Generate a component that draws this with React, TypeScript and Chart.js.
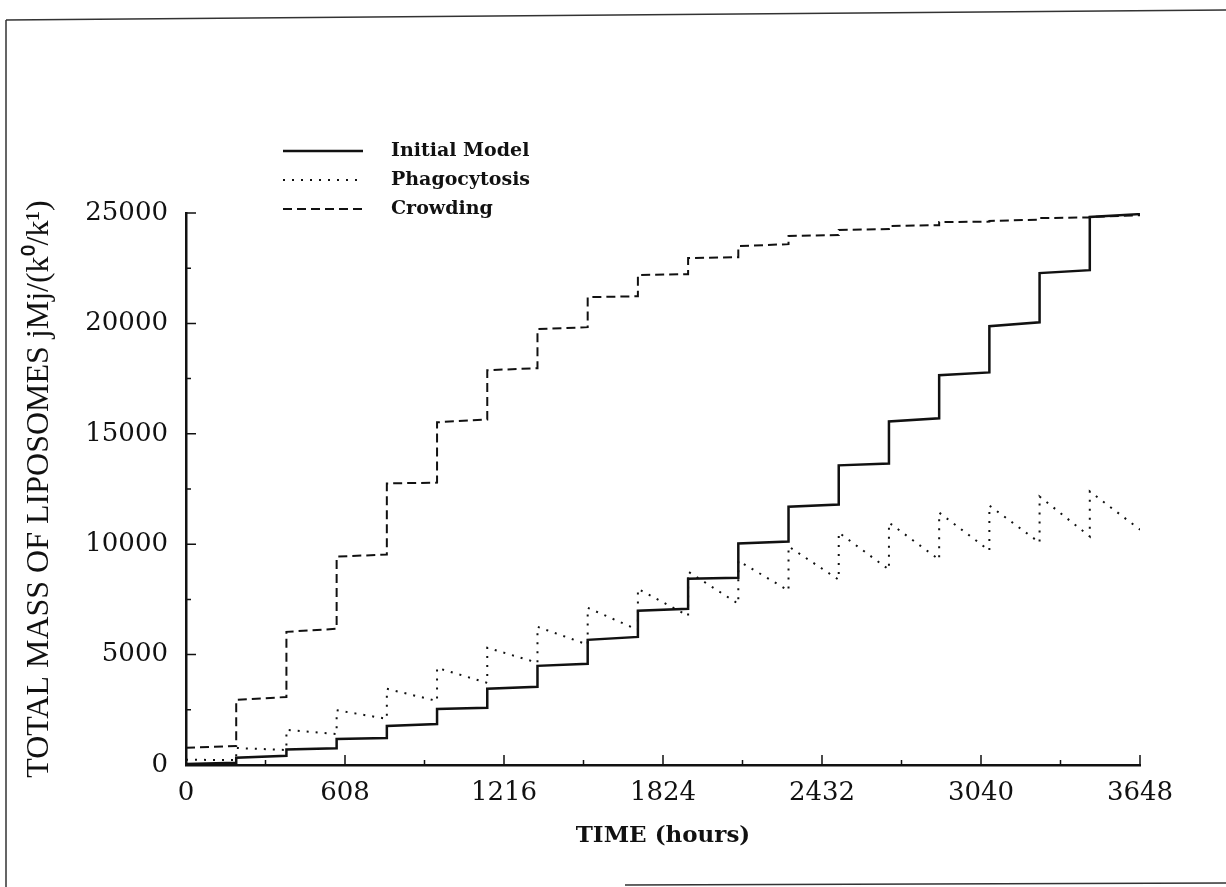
import React, { useEffect, useRef } from "react";
import { Chart, registerables } from "chart.js";

Chart.register(...registerables);

// ---- data ----
const doseTimes = [0, 192, 384, 576, 768, 960, 1152, 1344, 1536, 1728, 1920, 2112, 2304, 2496, 2688, 2880, 3072, 3264, 3456];
const endTime = 3648;

const xTickValues = [0, 608, 1216, 1824, 2432, 3040, 3648];
const xMinorTickValues = [304, 912, 1520, 2128, 2736, 3344];
const yTickValues = [0, 5000, 10000, 15000, 20000, 25000];
const yMinorTickValues = [2500, 7500, 12500, 17500, 22500];

const seriesNames = ["Initial Model", "Phagocytosis", "Crowding"];

// value just after each dose, and value just before the next dose
const initialStart = [50, 330, 700, 1180, 1770, 2540, 3450, 4490, 5670, 6990, 8440, 10030, 11700, 13570, 15560, 17650, 19870, 22280, 24820];
const initialEnd = [100, 420, 760, 1220, 1860, 2590, 3540, 4580, 5800, 7080, 8480, 10120, 11800, 13650, 15700, 17780, 20050, 22410, 24950];

const phagoStart = [240, 770, 1590, 2480, 3450, 4400, 5310, 6260, 7120, 7980, 8760, 9250, 9900, 10530, 10980, 11430, 11750, 12160, 12390];
const phagoEnd = [220, 680, 1400, 2090, 2900, 3720, 4630, 5450, 6120, 6760, 7300, 7900, 8390, 8850, 9300, 9710, 10070, 10350, 10660];

const crowdStart = [780, 2950, 6030, 9440, 12750, 15520, 17880, 19740, 21190, 22190, 22960, 23500, 23960, 24230, 24410, 24590, 24640, 24770, 24820];
const crowdEnd = [860, 3080, 6170, 9530, 12790, 15650, 17970, 19830, 21230, 22230, 23000, 23590, 24000, 24270, 24450, 24610, 24700, 24800, 24900];

function buildPoints(starts: number[], ends: number[]) {
  const pts: { x: number; y: number }[] = [];
  for (let i = 0; i < doseTimes.length; i++) {
    const t0 = doseTimes[i];
    const t1 = i + 1 < doseTimes.length ? doseTimes[i + 1] : endTime;
    pts.push({ x: t0, y: starts[i] });
    pts.push({ x: t1, y: ends[i] });
  }
  return pts;
}

const INK = "#111";
const SOLID: number[] = [];
const DOTTED = [2, 7];
const DASHED = [9, 5];
const dashes = [SOLID, DOTTED, DASHED];
const widths = [2.5, 2, 2];

const decorPlugin = {
  id: "decor",
  beforeDraw(chart: any) {
    const ctx = chart.ctx;
    ctx.save();
    ctx.fillStyle = "#fff";
    ctx.fillRect(0, 0, chart.width, chart.height);
    // scanned page frame
    ctx.strokeStyle = "#333";
    ctx.lineWidth = 1.5;
    ctx.beginPath();
    ctx.moveTo(6, 20);
    ctx.lineTo(1226, 10);
    ctx.moveTo(6, 20);
    ctx.lineTo(6, 887);
    ctx.moveTo(625, 885);
    ctx.lineTo(1226, 883);
    ctx.stroke();
    ctx.restore();
  },
  afterDraw(chart: any) {
    const ctx = chart.ctx;
    const xs = chart.scales.x;
    const ys = chart.scales.y;
    const { left, bottom, top } = chart.chartArea;
    ctx.save();
    ctx.strokeStyle = INK;
    ctx.lineWidth = 1.5;
    ctx.beginPath();
    xTickValues.forEach((v) => {
      const px = xs.getPixelForValue(v);
      ctx.moveTo(px, bottom);
      ctx.lineTo(px, bottom - 10);
    });
    xMinorTickValues.forEach((v) => {
      const px = xs.getPixelForValue(v);
      ctx.moveTo(px, bottom);
      ctx.lineTo(px, bottom - 5);
    });
    yTickValues.forEach((v) => {
      const py = ys.getPixelForValue(v);
      ctx.moveTo(left, py);
      ctx.lineTo(left + 10, py);
    });
    yMinorTickValues.forEach((v) => {
      const py = ys.getPixelForValue(v);
      ctx.moveTo(left, py);
      ctx.lineTo(left + 5, py);
    });
    ctx.stroke();

    // legend
    const rowY = [top - 62, top - 33, top - 4];
    const x0 = left + 97;
    const x1 = left + 177;
    const tx = left + 205;
    ctx.font = "bold 19px 'DejaVu Serif'";
    ctx.textBaseline = "middle";
    ctx.textAlign = "left";
    ctx.fillStyle = INK;
    seriesNames.forEach((name, i) => {
      ctx.beginPath();
      ctx.setLineDash(dashes[i]);
      ctx.lineWidth = i === 0 ? 2.5 : 2;
      ctx.moveTo(x0, rowY[i]);
      ctx.lineTo(x1, rowY[i]);
      ctx.stroke();
      ctx.setLineDash([]);
      ctx.fillText(name, tx, rowY[i]);
    });
    ctx.restore();
  },
};

export default function App() {
  const ref = useRef<HTMLCanvasElement | null>(null);

  useEffect(() => {
    if (!ref.current) return;
    const seriesPoints = [
      buildPoints(initialStart, initialEnd),
      buildPoints(phagoStart, phagoEnd),
      buildPoints(crowdStart, crowdEnd),
    ];
    const chart = new Chart(ref.current, {
      type: "line",
      data: {
        datasets: seriesNames.map((name, i) => ({
          label: name,
          data: seriesPoints[i],
          borderColor: INK,
          borderWidth: widths[i],
          borderDash: dashes[i],
          pointRadius: 0,
          tension: 0,
          fill: false,
        })),
      },
      options: {
        animation: false,
        responsive: false,
        maintainAspectRatio: false,
        layout: { padding: { top: 213, right: 86, left: 0, bottom: 0 } },
        plugins: {
          legend: { display: false },
          tooltip: { enabled: false },
        },
        scales: {
          x: {
            type: "linear",
            min: 0,
            max: endTime,
            afterBuildTicks: (s: any) => {
              s.ticks = xTickValues.map((v) => ({ value: v }));
            },
            afterFit: (s: any) => {
              s.height = 122;
            },
            grid: { display: false, drawTicks: false },
            border: { display: true, color: INK, width: 2.5 },
            ticks: {
              color: INK,
              padding: 13,
              maxRotation: 0,
              autoSkip: false,
              font: { family: "'DejaVu Serif'", size: 26 },
              callback: (v: any) => String(v),
            },
            title: {
              display: true,
              text: "TIME (hours)",
              color: INK,
              font: { family: "'DejaVu Serif'", size: 23, weight: "bold", lineHeight: 1.2 },
              padding: { top: 0, bottom: 37 },
            },
          },
          y: {
            type: "linear",
            min: 0,
            max: 25000,
            afterBuildTicks: (s: any) => {
              s.ticks = yTickValues.map((v) => ({ value: v }));
            },
            afterFit: (s: any) => {
              s.width = 186;
            },
            grid: { display: false, drawTicks: false },
            border: { display: true, color: INK, width: 2.5 },
            ticks: {
              color: INK,
              padding: 18,
              autoSkip: false,
              font: { family: "'DejaVu Serif'", size: 26 },
              callback: (v: any) => String(v),
            },
            title: {
              display: true,
              text: "TOTAL MASS OF LIPOSOMES jMj/(k\u2070/k\u00B9)",
              color: INK,
              font: { family: "'Liberation Serif'", size: 32, lineHeight: 1.2 },
              padding: { top: 20, bottom: 0 },
            },
          },
        },
      },
      plugins: [decorPlugin],
    });
    return () => chart.destroy();
  }, []);

  return (
    <div style={{ position: "absolute", left: 0, top: 0, width: 1226, height: 887, background: "#fff" }}>
      <canvas ref={ref} width={1226} height={887} style={{ display: "block" }} />
    </div>
  );
}
